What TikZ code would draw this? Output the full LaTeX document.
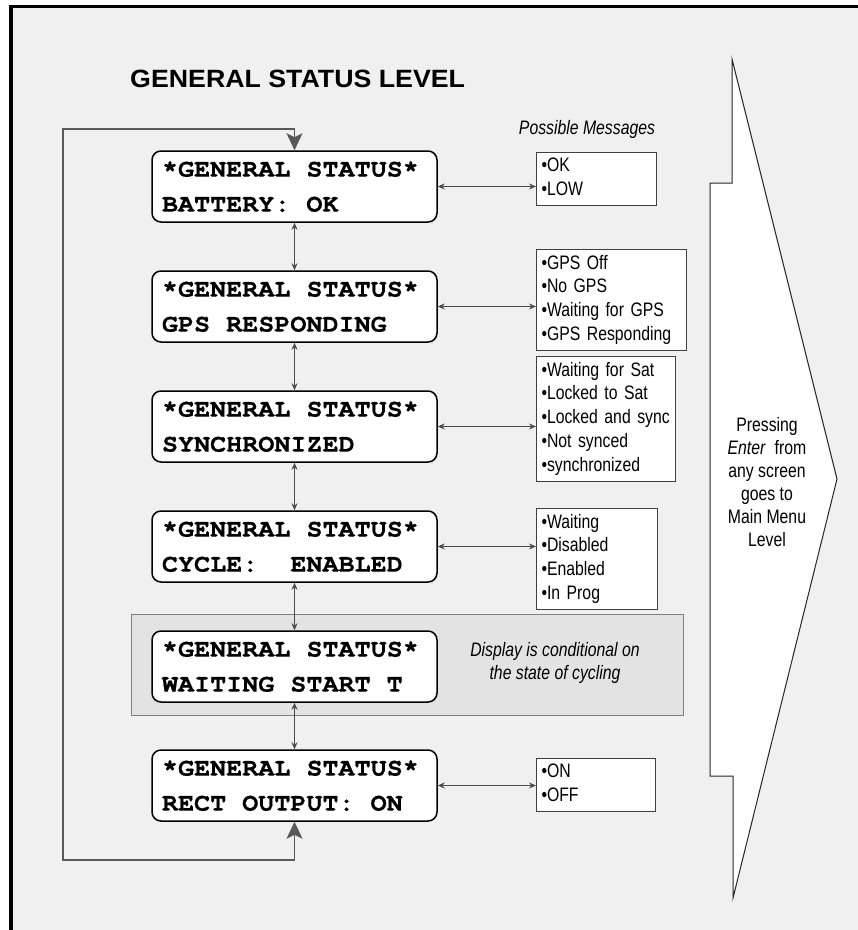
\documentclass[tikz,border=0pt]{standalone}
\usepackage{fontspec}
\setmainfont{Liberation Sans}
\newfontfamily\narrowfont[FakeStretch=0.81]{Liberation Sans}
\newfontfamily\titlefont[FakeStretch=1.07]{Liberation Sans}
\newfontfamily\lcdfont[FakeStretch=1.07, FakeBold=0.6]{texgyrecursor-bold.otf}
\usetikzlibrary{arrows.meta}
\definecolor{bgcol}{HTML}{F0F0F0}
\definecolor{condcol}{HTML}{E3E3E3}
\newcommand\mline[1]{\strut\mbox{•#1}}
\newcommand\lsp{\hphantom{X}}
\begin{document}
\frenchspacing
\begin{tikzpicture}[x=1pt,y=-1pt,
  lcd/.style={draw=black, line width=1.5pt, fill=white, rounded corners=9pt,
    minimum height=71pt, text width=265pt, inner xsep=10pt, inner ysep=0pt,
    align=left, font=\lcdfont\fontsize{25}{35}\selectfont},
  msg/.style={draw=black!75, line width=1pt, fill=white, anchor=north west,
    inner xsep=5pt, inner ysep=3pt, align=left,
    font=\narrowfont\fontsize{19.5}{23.8}\selectfont},
  link/.style={draw=black!70, line width=1pt,
    {Stealth[length=7pt,width=6pt]}-{Stealth[length=7pt,width=6pt]}},
  loopline/.style={draw=black!65, line width=1.5pt,
    {Stealth[length=17pt,width=16pt,inset=4pt]}-{Stealth[length=17pt,width=16pt,inset=4pt]}},
  note/.style={font=\narrowfont\itshape\fontsize{19.5}{23.5}\selectfont, align=center, inner sep=0pt},
]
\useasboundingbox (0,0) rectangle (858,930);
\fill[white] (0,0) rectangle (858,930);
\fill[bgcol] (11,6.5) rectangle (858,930);
\draw[line width=3.8pt] (11,935) -- (11,6.5) -- (862,6.5);

% title
\node[anchor=west, inner sep=0pt, font=\titlefont\bfseries\fontsize{25}{30}\selectfont] (title) at (130,79) {GENERAL STATUS LEVEL};

% big arrow
\draw[fill=white, draw=black!85, line width=1pt]
  (732,59) -- (837,479) -- (733,898) -- (733,776) -- (710,776) -- (710,183) -- (732,183) -- cycle;
\node[align=center, inner sep=0pt, font=\narrowfont\fontsize{19.5}{23}\selectfont] (press) at (767,482.5)
  {Pressing\\\textit{Enter}\ \ from\\any screen\\goes to\\Main Menu\\Level};

% conditional region
\draw[fill=condcol, draw=black!50, line width=1pt] (131.7,614.3) rectangle (683,715.7);
\node[note] (cond) at (555,663) {Display is conditional on\\the state of cycling};

% possible messages header
\node[note] (pm) at (587,129) {Possible Messages};

% display boxes
\node[lcd] (b1) at (294.5,186.5) {*GENERAL\lsp STATUS*\\BATTERY:\lsp OK};
\node[lcd] (b2) at (294.5,306.5) {*GENERAL\lsp STATUS*\\GPS\lsp RESPONDING};
\node[lcd] (b3) at (294.5,426.5) {*GENERAL\lsp STATUS*\\SYNCHRONIZED};
\node[lcd] (b4) at (294.5,546.5) {*GENERAL\lsp STATUS*\\CYCLE:\lsp\lsp ENABLED};
\node[lcd] (b5) at (294.5,666.5) {*GENERAL\lsp STATUS*\\WAITING\lsp START\lsp T};
\node[lcd] (b6) at (294.5,785.5) {*GENERAL\lsp STATUS*\\RECT\lsp OUTPUT:\lsp ON};

% message boxes
\node[msg, text width=110pt] (m1) at (536,151.7) {\mline{OK}\\\mline{LOW}};
\node[msg, text width=140pt] (m2) at (536,249) {\mline{GPS Off}\\\mline{No GPS}\\\mline{Waiting for GPS}\\\mline{GPS Responding}};
\node[msg, text width=129pt] (m3) at (536,356) {\mline{Waiting for Sat}\\\mline{Locked to Sat}\\\mline{Locked and sync}\\\mline{Not synced}\\\mline{synchronized}};
\node[msg, text width=111pt] (m4) at (536,508) {\mline{Waiting}\\\mline{Disabled}\\\mline{Enabled}\\\mline{In Prog}};
\node[msg, text width=109pt] (m6) at (536,757.5) {\mline{ON}\\\mline{OFF}};

% vertical links
\draw[link] (b1.south) -- (b2.north);
\draw[link] (b2.south) -- (b3.north);
\draw[link] (b3.south) -- (b4.north);
\draw[link] (b4.south) -- (b5.north);
\draw[link] (b5.south) -- (b6.north);

% horizontal links
\draw[link] (b1.east) -- (m1.west |- b1.east);
\draw[link] (b2.east) -- (m2.west |- b2.east);
\draw[link] (b3.east) -- (m3.west |- b3.east);
\draw[link] (b4.east) -- (m4.west |- b4.east);
\draw[link] (b6.east) -- (m6.west |- b6.east);

% loop
\coordinate (lt) at (63,129);
\coordinate (lb) at (63,860);
\draw[loopline] (b6.south) |- (lb) -- (lt) -| (b1.north);
\end{tikzpicture}
\end{document}
